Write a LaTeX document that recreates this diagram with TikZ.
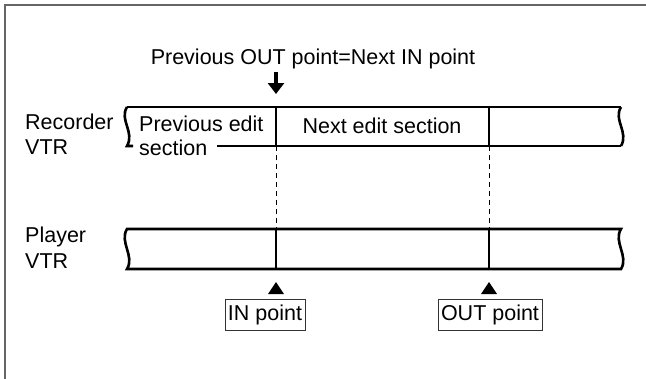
\documentclass[tikz,border=0pt]{standalone}
\usepackage{fontspec}
\setmainfont{Liberation Sans}
\usetikzlibrary{arrows.meta}
\begin{document}
\begin{tikzpicture}[x=1pt, y=-1pt,
  every node/.style={font=\fontsize{21.5}{23}\selectfont, inner sep=0pt},
  strip/.style={line width=2.6pt, black},
  cut/.style={line width=1pt, dash pattern=on 5pt off 4pt},
  ptbox/.style={draw, black!80, text=black, line width=0.9pt, inner xsep=3pt, minimum height=31pt},
  tri/.style={fill=black}]
  \useasboundingbox (0,0) rectangle (646,378);
  % outer frame
  \draw[gray!80!black, line width=1.6pt] (5,380) -- (5,5) -- (648,5);
  % labels on the left
  \node[anchor=west] (rec) at (25,122) {Recorder};
  \node[anchor=west] (recv) at (25,147) {VTR};
  \node[anchor=west] (ply) at (25,237) {Player};
  \node[anchor=west] (plyv) at (25,261) {VTR};
  % recorder tape
  \draw[strip] (127,107) .. controls (119,120) and (135,132) .. (127,146) -- (133,146);
  \draw[strip] (127,107) -- (621,107);
  \draw[strip] (621,107) .. controls (613,120) and (629,132) .. (621,146);
  \draw[strip] (217,146) -- (621,146);
  \draw[strip] (276,107) -- (276,146);
  \draw[strip] (489,107) -- (489,146);
  \node[anchor=west] (prev) at (139,124) {Previous edit};
  \node[anchor=west] (prevs) at (139,148) {section};
  \node (next) at (382,126) {Next edit section};
  % player tape
  \draw[strip] (127,229) .. controls (119,242) and (135,256) .. (127,269) -- (621,269)
    .. controls (629,256) and (613,242) .. (621,229) -- cycle;
  \draw[strip] (276,229) -- (276,269);
  \draw[strip] (489,229) -- (489,269);
  \draw[cut] (276,146) -- (276,229);
  \draw[cut] (489,146) -- (489,229);
  % edit points
  \node (title) at (313,59) {Previous OUT point=Next IN point};
  \coordinate (inarr) at (276,94);
  \draw[line width=4pt, -{Triangle[width=16pt,length=11pt]}] (276,72) -- (inarr);
  \node[ptbox] (inpt) at (265,314.5) {IN point};
  \node[ptbox] (outpt) at (490,314.5) {OUT point};
  \fill[tri] (276,282) -- (284,294) -- (268,294) -- cycle;
  \fill[tri] (489,282) -- (497,294) -- (481,294) -- cycle;
\end{tikzpicture}
\end{document}
